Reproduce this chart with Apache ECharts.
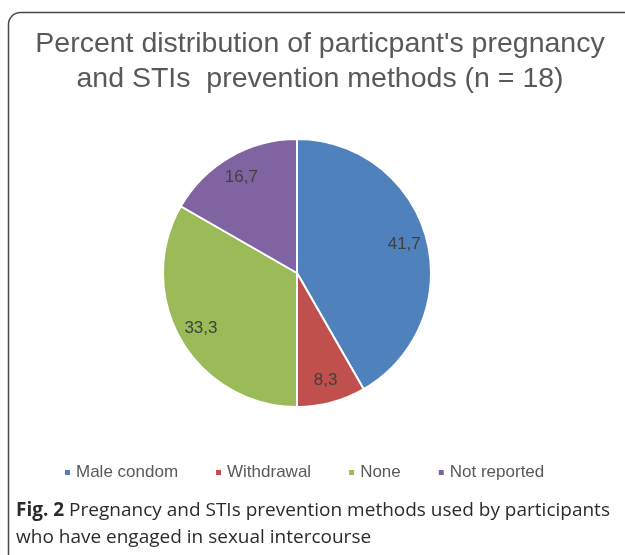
<!DOCTYPE html>
<html>
<head>
<meta charset="utf-8">
<script src="https://cdn.jsdelivr.net/npm/echarts@6/dist/echarts.min.js"></script>
<style>
  html, body { margin: 0; padding: 0; background: #fff; }
  #chart { width: 625px; height: 555px; }
</style>
</head>
<body>
<div id="chart"></div>
<script>
// values
const methods = ['Male condom', 'Withdrawal', 'None', 'Not reported'];
const percents = [41.7, 8.3, 33.3, 16.7];
const colours = ['#4F81BD', '#C0504D', '#9BBB59', '#8064A2'];

const titleLines = ["Percent distribution of particpant's pregnancy", 'and STIs  prevention methods (n = 18)'];

const pieData = methods.map((name, i) => ({ name, value: percents[i] }));
const commaFmt = (p) => String(p.value).replace('.', ',');

const chart = echarts.init(document.getElementById('chart'));

chart.setOption({
  animation: false,
  color: colours,
  title: {
    text: titleLines.join('\n'),
    left: 315,
    top: 22,
    textAlign: 'center',
    textStyle: {
      fontFamily: 'Liberation Sans, sans-serif',
      fontWeight: 'normal',
      fontSize: 28.5,
      lineHeight: 35,
      color: '#595959'
    }
  },
  legend: {
    data: methods,
    left: 58,
    top: 459,
    icon: 'rect',
    itemWidth: 7,
    itemHeight: 7,
    itemGap: 36,
    textStyle: {
      fontFamily: 'Liberation Sans, sans-serif',
      fontSize: 17,
      color: '#595959'
    }
  },
  series: [
    {
      type: 'pie',
      center: [297, 273],
      radius: [0, 134],
      startAngle: 90,
      clockwise: true,
      data: pieData,
      label: { show: false },
      labelLine: { show: false },
      itemStyle: { borderColor: '#fff', borderWidth: 2 },
      emphasis: { disabled: true }
    },
    {
      // transparent ring used only to place labels near the rim
      type: 'pie',
      center: [297, 273],
      radius: [82, 134],
      startAngle: 90,
      clockwise: true,
      silent: true,
      legendHoverLink: false,
      data: pieData,
      itemStyle: { color: 'rgba(0,0,0,0)', borderWidth: 0 },
      label: {
        show: true,
        position: 'inside',
        formatter: commaFmt,
        fontFamily: 'Liberation Sans, sans-serif',
        fontSize: 17,
        color: '#404040'
      },
      labelLine: { show: false },
      emphasis: { disabled: true }
    }
  ],
  graphic: [
    {
      type: 'rect',
      shape: { x: 8.5, y: 12.5, width: 660, height: 580, r: 12 },
      style: { fill: 'none', stroke: '#4a4a4a', lineWidth: 1.5 },
      silent: true
    },
    {
      type: 'text',
      left: 16,
      top: 497,
      style: {
        text: '{b|Fig. 2} Pregnancy and STIs prevention methods used by participants\nwho have engaged in sexual intercourse',
        fontFamily: 'Open Sans, Noto Sans, sans-serif',
        fontSize: 19,
        lineHeight: 27,
        fill: '#2b2b2b',
        rich: {
          b: { fontFamily: 'Open Sans, Noto Sans, sans-serif', fontSize: 19, fontWeight: 'bold', fill: '#2b2b2b' }
        }
      }
    }
  ]
});
</script>
</body>
</html>
